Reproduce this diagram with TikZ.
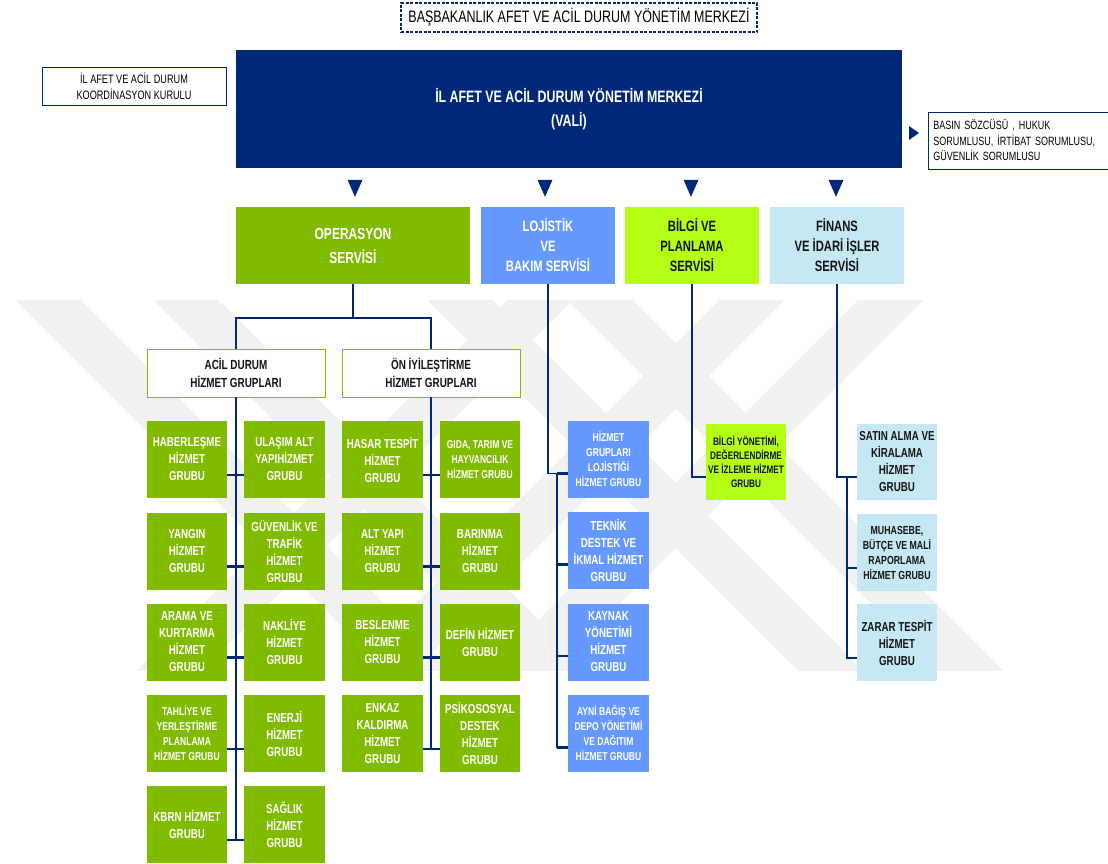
\documentclass[tikz,border=0pt]{standalone}
\usepackage{fontspec}
\setmainfont{Liberation Sans}[FakeStretch=0.75]
\usetikzlibrary{calc}
\definecolor{navy}{RGB}{0,40,120}
\definecolor{ogreen}{RGB}{128,187,0}
\definecolor{lblue}{RGB}{102,153,255}
\definecolor{lime}{RGB}{180,255,20}
\definecolor{pblue}{RGB}{198,232,244}
\definecolor{wm}{RGB}{241,241,241}
\definecolor{dtext}{RGB}{20,20,20}
\newcommand{\fsz}[2]{\fontsize{#1}{#2}\selectfont}

\begin{document}
\begin{tikzpicture}[x=1pt,y=-1pt,
  conn/.style={draw=navy,line width=1.6pt},
  tick/.style={draw=navy,line width=2.2pt},
  box/.style={inner sep=0pt,align=center,minimum width=80pt,minimum height=77pt},
  gbox/.style={box,fill=ogreen,text=white,font=\bfseries\fsz{13}{17}},
  gsmall/.style={font=\bfseries\fsz{11.4}{15}},
  bbox/.style={box,fill=lblue,text=white,font=\bfseries\fsz{13}{17}},
  fbox/.style={box,fill=pblue,text=dtext,font=\bfseries\fsz{13}{17}},
  svc/.style={inner sep=0pt,align=center,minimum width=134pt,minimum height=77pt,font=\bfseries\fsz{15}{20}},
  hdr/.style={draw=ogreen,line width=0.8pt,fill=white,inner sep=0pt,align=center,minimum width=178pt,minimum height=48pt,font=\bfseries\fsz{13.2}{18},text=dtext}
]
\useasboundingbox (0,0) rectangle (1108,863);
\fill[white] (0,0) rectangle (1108,863);

% faint background watermark
\begin{scope}
\clip (0,300) rectangle (1108,670);
\foreach \x in {48,186,460,600}{\draw[wm,line width=46pt] (\x-20,280) -- (\x+390,690);}
\foreach \x in {540,752,891}{\draw[wm,line width=46pt] (\x+20,280) -- (\x-390,690);}
\end{scope}

% top
\node[draw=navy,dashed,dash pattern=on 3pt off 1.5pt,line width=1.2pt,inner sep=0pt,minimum width=356pt,minimum height=29pt,font=\fsz{16.6}{20}] (bas) at (579,17.5) {BAŞBAKANLIK AFET VE ACİL DURUM YÖNETİM MERKEZİ};
\node[fill=navy,text=white,inner sep=0pt,minimum width=666pt,minimum height=118pt,align=center,font=\bfseries\fsz{16.5}{24}] (main) at (569,109) {İL AFET VE ACİL DURUM YÖNETİM MERKEZİ\\(VALİ)};
\node[draw=navy,line width=0.9pt,fill=white,inner sep=0pt,minimum width=184pt,minimum height=38pt,align=center,font=\fsz{12.2}{16}] (koord) at (134,86) {İL AFET VE ACİL DURUM\\KOORDİNASYON KURULU};
\node[draw=navy,line width=0.9pt,fill=white,anchor=west,inner xsep=5pt,inner ysep=0pt,text width=180pt,minimum height=57pt,align=left,font=\fsz{12}{15.5}] (side) at (928,140.5) {BASIN SÖZCÜSÜ , HUKUK\\SORUMLUSU, İRTİBAT SORUMLUSU,\\GÜVENLİK SORUMLUSU};
\fill[navy] ($(side.west)+(-19,-14.5)$) -- ++(0,14) -- ++(10,-7) -- cycle;

% services
\node[svc,fill=ogreen,text=white,minimum width=234pt,font=\bfseries\fsz{16}{24}] (ops) at (353,245.5) {OPERASYON\\SERVİSİ};
\node[svc,fill=lblue,text=white] (loj) at (548,245.5) {LOJİSTİK\\VE\\BAKIM SERVİSİ};
\node[svc,fill=lime,text=dtext] (bil) at (692,245.5) {BİLGİ VE\\PLANLAMA\\SERVİSİ};
\node[svc,fill=pblue,text=dtext] (fin) at (837,245.5) {FİNANS\\VE İDARİ İŞLER\\SERVİSİ};
\foreach \n/\d in {ops/2,loj/-3,bil/-1,fin/-1}{
  \fill[navy] ($(\n.north)+(\d-7.5,-27)$) -- ++(15,0) -- ++(-7.5,17) -- cycle;}

% operasyon headers
\node[hdr] (acil) at (236,373) {ACİL DURUM\\HİZMET GRUPLARI};
\node[hdr] (oni) at (431,373) {ÖN İYİLEŞTİRME\\HİZMET GRUPLARI};

% green grid
\node[gbox] (r1c1) at (187,459.5) {HABERLEŞME\\HİZMET\\GRUBU};
\node[gbox,minimum width=81pt] (r1c2) at (284.5,459.5) {ULAŞIM ALT\\YAPIHİZMET\\GRUBU};
\node[gbox] (r2c1) at (187,551) {YANGIN\\HİZMET\\GRUBU};
\node[gbox,minimum width=81pt] (r2c2) at (284.5,551) {GÜVENLİK VE\\TRAFİK\\HİZMET\\GRUBU};
\node[gbox] (r3c1) at (187,642) {ARAMA VE\\KURTARMA\\HİZMET\\GRUBU};
\node[gbox,minimum width=81pt] (r3c2) at (284.5,642) {NAKLİYE\\HİZMET\\GRUBU};
\node[gbox,gsmall] (r4c1) at (187,733.5) {TAHLİYE VE\\YERLEŞTİRME\\PLANLAMA\\HİZMET GRUBU};
\node[gbox,minimum width=81pt] (r4c2) at (284.5,733.5) {ENERJİ\\HİZMET\\GRUBU};
\node[gbox] (r5c1) at (187,824.5) {KBRN HİZMET\\GRUBU};
\node[gbox,minimum width=81pt] (r5c2) at (284.5,824.5) {SAĞLIK\\HİZMET\\GRUBU};

\node[gbox,minimum width=81pt] (r1c3) at (382.5,459.5) {HASAR TESPİT\\HİZMET\\GRUBU};
\node[gbox,gsmall] (r1c4) at (480,459.5) {GIDA, TARIM VE\\HAYVANCILIK\\HİZMET GRUBU};
\node[gbox,minimum width=81pt] (r2c3) at (382.5,551) {ALT YAPI\\HİZMET\\GRUBU};
\node[gbox] (r2c4) at (480,551) {BARINMA\\HİZMET\\GRUBU};
\node[gbox,minimum width=81pt] (r3c3) at (382.5,642) {BESLENME\\HİZMET\\GRUBU};
\node[gbox] (r3c4) at (480,642) {DEFİN HİZMET\\GRUBU};
\node[gbox,minimum width=81pt] (r4c3) at (382.5,733.5) {ENKAZ\\KALDIRMA\\HİZMET\\GRUBU};
\node[gbox] (r4c4) at (480,733.5) {PSİKOSOSYAL\\DESTEK\\HİZMET\\GRUBU};

% lojistik column
\node[bbox,minimum width=81pt,gsmall] (b1) at (608.5,459.5) {HİZMET\\GRUPLARI\\LOJİSTİĞİ\\HİZMET GRUBU};
\node[bbox,minimum width=81pt] (b2) at (608.5,550.5) {TEKNİK\\DESTEK VE\\İKMAL HİZMET\\GRUBU};
\node[bbox,minimum width=81pt] (b3) at (608.5,642) {KAYNAK\\YÖNETİMİ\\HİZMET\\GRUBU};
\node[bbox,minimum width=81pt,gsmall] (b4) at (608.5,733.5) {AYNİ BAĞIŞ VE\\DEPO YÖNETİMİ\\VE DAĞITIM\\HİZMET GRUBU};

% bilgi
\node[box,fill=lime,text=dtext,minimum height=76pt,font=\bfseries\fsz{10.9}{14}] (k1) at (746,462) {BİLGİ YÖNETİMİ,\\DEĞERLENDİRME\\VE İZLEME HİZMET\\GRUBU};

% finans column
\node[fbox,minimum height=76pt] (f1) at (897,462) {SATIN ALMA VE\\KİRALAMA\\HİZMET\\GRUBU};
\node[fbox,font=\bfseries\fsz{11.7}{15}] (f2) at (897,552.5) {MUHASEBE,\\BÜTÇE VE MALİ\\RAPORLAMA\\HİZMET GRUBU};
\node[fbox] (f3) at (897,642.5) {ZARAR TESPİT\\HİZMET\\GRUBU};

% ---- connectors: operasyon
\coordinate (opj) at ($(ops.south)+(0,34)$);
\draw[conn] (ops.south) -- (opj);
\draw[conn] (acil.north) |- (opj) -| (oni.north);
\foreach \r in {1,...,5}{
  \coordinate (tL\r) at ($(r\r c1.north east)!.70!(r\r c1.south east)$);
  \draw[tick] (tL\r) -- (tL\r -| r\r c2.west);}
\foreach \r in {1,...,4}{
  \coordinate (tR\r) at ($(r\r c3.north east)!.70!(r\r c3.south east)$);
  \draw[tick] (tR\r) -- (tR\r -| r\r c4.west);}
\draw[conn] (acil.south) -- (acil.south |- tL5);
\draw[conn] (oni.south) -- (oni.south |- tR4);

% lojistik
\foreach \r in {1,...,4}{\coordinate (tB\r) at ($(b\r.north west)!.68!(b\r.south west)$);}
\draw[conn] (loj.south) |- (tB1);
\coordinate (lt) at ($(tB1)+(-11,0)$);
\draw[conn] (lt) |- (tB4);
\draw[tick] (tB1 -| lt) -- (tB1);
\foreach \r in {2,3,4}{\draw[tick] (tB\r -| lt) -- (tB\r);}

% bilgi
\coordinate (tK1) at ($(k1.north west)!.70!(k1.south west)$);
\draw[conn] (bil.south) |- (tK1);

% finans
\foreach \r in {1,2,3}{\coordinate (tF\r) at ($(f\r.north west)!.70!(f\r.south west)$);}
\draw[conn] (fin.south) |- (tF1);
\coordinate (ft) at ($(tF1)+(-10,0)$);
\draw[conn] (ft) |- (tF3);
\draw[tick] (tF1 -| ft) -- (tF1);
\foreach \r in {2,3}{\draw[tick] (tF\r -| ft) -- (tF\r);}
\end{tikzpicture}
\end{document}
